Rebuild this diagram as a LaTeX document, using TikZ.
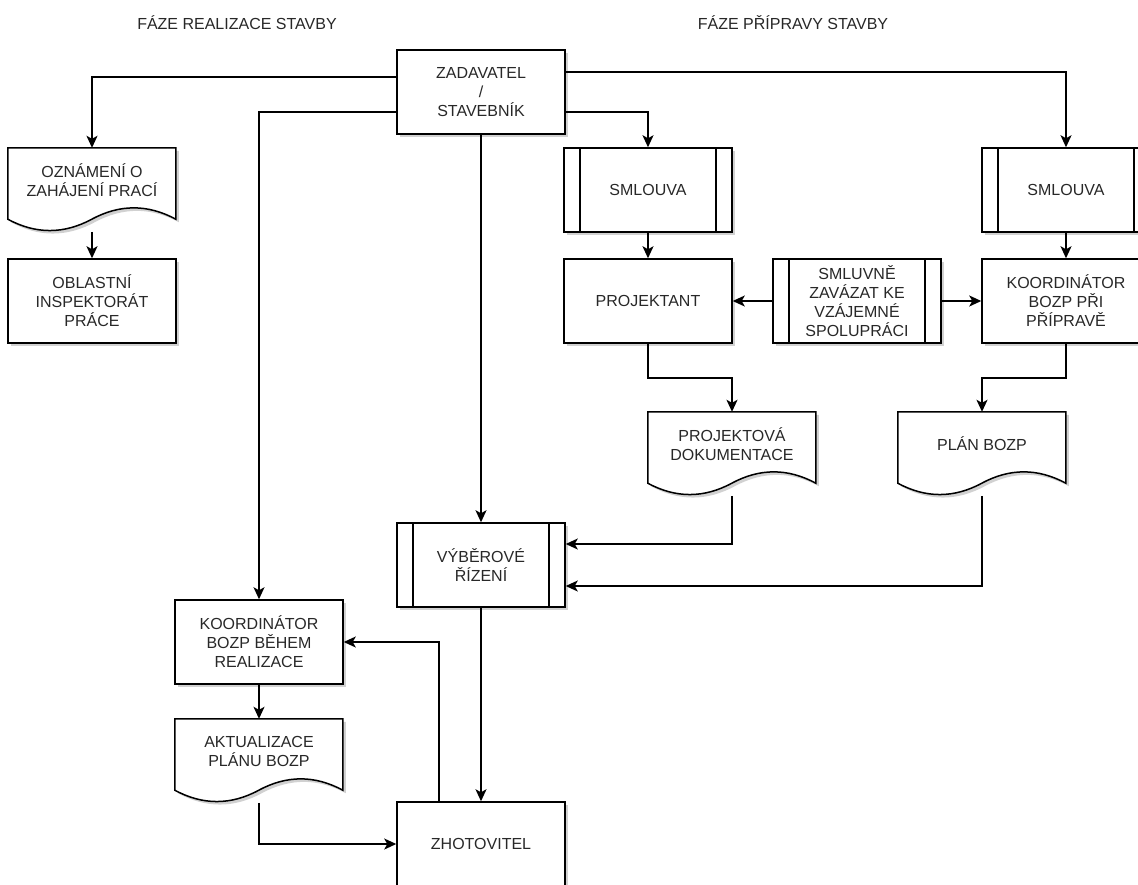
\documentclass[tikz,border=0pt]{standalone}
\usepackage{fontspec}
\setmainfont{Liberation Sans}
\usetikzlibrary{arrows.meta,shadows,backgrounds,calc}
\newcommand\fsz{\fontsize{16}{19}\selectfont}
\definecolor{txt}{RGB}{40,40,40}
\tikzset{
  shad/.style={drop shadow={shadow xshift=3pt,shadow yshift=-3pt,opacity=0.18,fill=black}},
  boxnode/.style={draw=black,line width=1.5pt,fill=white,minimum width=168pt,minimum height=84pt,
    inner sep=0pt,align=center,font=\fsz,text=txt,shad},
  docnode/.style={minimum width=168pt,minimum height=64pt,inner sep=0pt,align=center,font=\fsz,text=txt},
  docline/.style={draw=black,line width=1.5pt,fill=white,shad},
  conn/.style={draw=black,line width=1.5pt,-{Stealth[length=12pt,width=11pt,inset=3pt]}},
  ttl/.style={font=\fsz,text=txt,inner sep=0pt},
}
\newcommand\subproc[1]{%
  \draw[line width=1.5pt] ([xshift=16.8pt]#1.north west) -- ([xshift=16.8pt]#1.south west);
  \draw[line width=1.5pt] ([xshift=-16.8pt]#1.north east) -- ([xshift=-16.8pt]#1.south east);}
\newcommand\docoutline[1]{%
  \begin{pgfonlayer}{background}
  \draw[docline,shift={(#1.north west)}] (0,0) -- (168,0) -- (168,71.4)
    .. controls (140,56.28) and (112,56.28) .. (84,71.4)
    .. controls (56,86.52) and (28,86.52) .. (0,71.4) -- cycle;
  \end{pgfonlayer}}
\begin{document}
\begin{tikzpicture}[x=1pt,y=-1pt]
\begin{pgfonlayer}{background}
\fill[white] (0,0) rectangle (1138,884);
\end{pgfonlayer}
\useasboundingbox (0,0) rectangle (1138,884);

\node[ttl] (t1) at (237,23) {FÁZE REALIZACE STAVBY};
\node[ttl] (t2) at (793,23) {FÁZE PŘÍPRAVY STAVBY};

\node[boxnode] (zad) at (481,92) {ZADAVATEL\\/\\STAVEBNÍK};
\node[docnode] (oz) at (92,180) {OZNÁMENÍ O\\ZAHÁJENÍ PRACÍ};
\docoutline{oz}
\node[boxnode] (ob) at (92,301) {OBLASTNÍ\\INSPEKTORÁT\\PRÁCE};

\node[boxnode] (sl) at (648,190) {SMLOUVA};
\subproc{sl}
\node[boxnode] (sr) at (1066,190) {SMLOUVA};
\subproc{sr}

\node[boxnode] (pj) at (648,301) {PROJEKTANT};
\node[boxnode] (sm) at (857,301) {SMLUVNĚ\\ZAVÁZAT KE\\VZÁJEMNÉ\\SPOLUPRÁCI};
\subproc{sm}
\node[boxnode] (kp) at (1066,301) {KOORDINÁTOR\\BOZP PŘI\\PŘÍPRAVĚ};

\node[docnode] (pd) at (732,444) {PROJEKTOVÁ\\DOKUMENTACE};
\docoutline{pd}
\node[docnode] (pl) at (982,444) {PLÁN BOZP};
\docoutline{pl}

\node[boxnode] (vy) at (481,565) {VÝBĚROVÉ\\ŘÍZENÍ};
\subproc{vy}

\node[boxnode] (kb) at (259,642) {KOORDINÁTOR\\BOZP BĚHEM\\REALIZACE};
\node[docnode] (ak) at (259,751) {AKTUALIZACE\\PLÁNU BOZP};
\docoutline{ak}
\node[boxnode] (zh) at (481,844) {ZHOTOVITEL};

\coordinate (ozb) at ([yshift=-84pt]oz.north);
\coordinate (pdb) at ([yshift=-84pt]pd.north);
\coordinate (plb) at ([yshift=-84pt]pl.north);
\coordinate (akb) at ([yshift=-84pt]ak.north);

\draw[conn] ([yshift=15pt]zad.west) -| (oz.north);
\draw[conn] ([yshift=-20pt]zad.west) -| (kb.north);
\draw[conn] ([yshift=20pt]zad.east) -| (sr.north);
\draw[conn] ([yshift=-20pt]zad.east) -| (sl.north);
\draw[conn] (zad.south) -- (vy.north);
\draw[conn] (ozb) -- (ob.north);
\draw[conn] (sl.south) -- (pj.north);
\draw[conn] (sr.south) -- (kp.north);
\draw[conn] (sm.west) -- (pj.east);
\draw[conn] (sm.east) -- (kp.west);
\draw[conn] (pj.south) -- ++(0,34) -| (pd.north);
\draw[conn] (kp.south) -- ++(0,34) -| (pl.north);
\draw[conn] (pdb) |- ([yshift=21pt]vy.east);
\draw[conn] (plb) |- ([yshift=-21pt]vy.east);
\draw[conn] (vy.south) -- (zh.north);
\draw[conn] ([xshift=-42pt]zh.north) |- (kb.east);
\draw[conn] (kb.south) -- (ak.north);
\draw[conn] (akb) |- (zh.west);
\end{tikzpicture}
\end{document}
